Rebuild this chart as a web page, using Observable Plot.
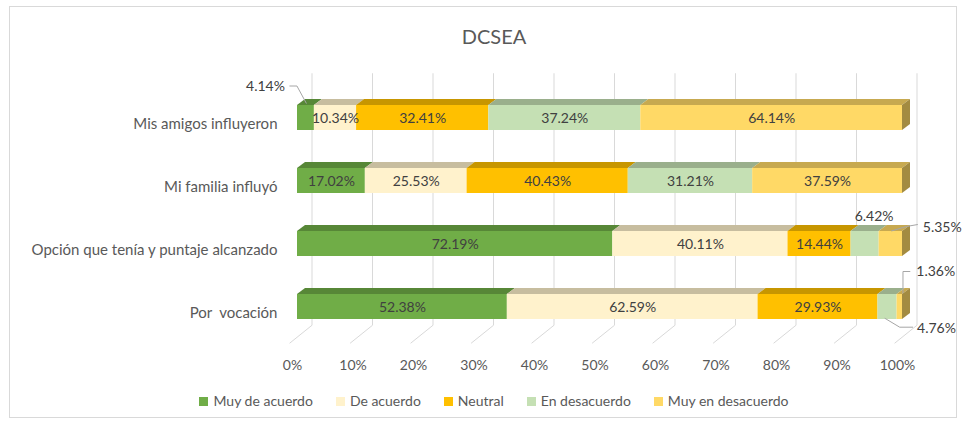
<!DOCTYPE html>
<html>
<head>
<meta charset="utf-8">
<script src="https://cdn.jsdelivr.net/npm/d3@7"></script>
<script src="https://cdn.jsdelivr.net/npm/@observablehq/plot@0.6"></script>
<style>
  body { margin: 0; background: #fff; font-family: Lato, "Open Sans", sans-serif; }
  #frame { position: absolute; left: 9px; top: 6px; width: 948px; height: 412px; border: 1px solid #d9d9d9; box-sizing: border-box; }
  #title { position: absolute; left: 0; top: 24px; width: 988px; text-align: center; font-size: 20px; color: #595959; line-height: 24px; }
  #chart { position: absolute; left: 0; top: 0; }
  #chart svg { white-space: pre; }
  #legend { position: absolute; left: 0; top: 392px; width: 988px; display: flex; justify-content: center; align-items: center; font-size: 14px; color: #595959; line-height: 18px; }
  .item { display: flex; align-items: center; margin: 0 11.5px; }
  .sw { width: 9px; height: 9px; margin-right: 5px; }
</style>
</head>
<body>
<div id="frame"></div>
<div id="chart"></div>
<div id="title">DCSEA</div>
<div id="legend"></div>
<script>
// ---- data ----
const categories = ["Mis amigos influyeron", "Mi familia influyó", "Opción que tenía y puntaje alcanzado", "Por  vocación"];
const seriesNames = ["Muy de acuerdo", "De acuerdo", "Neutral", "En desacuerdo", "Muy en desacuerdo"];
const muyDeAcuerdo    = [4.14, 17.02, 72.19, 52.38];
const deAcuerdo       = [10.34, 25.53, 40.11, 62.59];
const neutral         = [32.41, 40.43, 14.44, 29.93];
const enDesacuerdo    = [37.24, 31.21, 6.42, 4.76];
const muyEnDesacuerdo = [64.14, 37.59, 5.35, 1.36];
const xTicks = [0, 0.1, 0.2, 0.3, 0.4, 0.5, 0.6, 0.7, 0.8, 0.9, 1];
const seriesColors = ["#70AD47", "#FFF2CC", "#FFC000", "#C5E0B4", "#FFD966"];

// ---- layout / style (not data) ----
const depthX = 8, depthY = 6;
const callouts = [
  {cat: "Mis amigos influyeron", series: "Muy de acuerdo", dx: -21, dy: -31, anchor: "end",
   path: [[1, -14], [-8.5, -31.5], [-16, -31.5]]},
  {cat: "Opción que tenía y puntaje alcanzado", series: "En desacuerdo", dx: 9, dy: -27, anchor: "middle", path: null},
  {cat: "Opción que tenía y puntaje alcanzado", series: "Muy en desacuerdo", dx: 32, dy: -16.5, anchor: "start",
   path: [[1, -12.5], [16, -17], [27.5, -19]]},
  {cat: "Por  vocación", series: "Muy en desacuerdo", dx: 16.5, dy: -35, anchor: "start",
   path: [[3.7, -13.4], [3.7, -35], [11, -35]]},
  {cat: "Por  vocación", series: "En desacuerdo", dx: 29.5, dy: 21.5, anchor: "start",
   path: [[-2.3, 11.7], [12.7, 20.7], [26, 20.7]]}
];

const seriesValues = [muyDeAcuerdo, deAcuerdo, neutral, enDesacuerdo, muyEnDesacuerdo];
const rows = [];
categories.forEach((c, i) => seriesNames.forEach((s, j) => rows.push({cat: c, series: s, value: seriesValues[j][i]})));

const fmt = d => d.value.toFixed(2) + "%";
const findCallout = d => callouts.find(c => c.cat === d.cat && c.series === d.series);
const stack = (o) => Plot.stackX({offset: "normalize"}, {x: "value", y: "cat", z: "series", ...o});

function backWall(index, scales, values, dims) {
  const g = d3.create("svg:g").attr("fill", "none").attr("stroke", "#d9d9d9").attr("stroke-width", 1);
  const top = dims.marginTop, bottom = dims.height - dims.marginBottom;
  for (const t of xTicks) {
    const px = scales.x(t);
    g.append("path").attr("d", `M${px + 15},${top - 12}V${bottom - 14}L${px - 7.4},${bottom + 4}`);
  }
  return g.node();
}

function faces(index, scales, values, dims) {
  const g = d3.create("svg:g");
  const bw = scales.y.bandwidth();
  const xEnd = dims.width - dims.marginRight;
  for (const i of index) {
    const x1 = values.x1[i], x2 = values.x2[i];
    const y0 = scales.y(rows[i].cat);
    const base = d3.rgb(scales.color(rows[i].series));
    const shade = k => d3.rgb(base.r * k, base.g * k, base.b * k).formatHex();
    g.append("path")
      .attr("d", `M${x1},${y0}L${x2},${y0}L${x2 + depthX},${y0 - depthY}L${x1 + depthX},${y0 - depthY}Z`)
      .attr("fill", shade(0.78));
    if (Math.abs(x2 - xEnd) < 0.5) {
      g.append("path")
        .attr("d", `M${x2},${y0}L${x2 + depthX},${y0 - depthY}L${x2 + depthX},${y0 + bw - depthY}L${x2},${y0 + bw}Z`)
        .attr("fill", shade(0.64));
    }
  }
  return g.node();
}

function leaders(index, scales, values, dims) {
  const g = d3.create("svg:g").attr("fill", "none").attr("stroke", "#a6a6a6").attr("stroke-width", 1);
  const bw = scales.y.bandwidth();
  for (const i of index) {
    const c = findCallout(rows[i]);
    if (!c || !c.path) continue;
    const mx = (values.x1[i] + values.x2[i]) / 2;
    const my = scales.y(rows[i].cat) + bw / 2;
    g.append("path").attr("d", "M" + c.path.map(([a, b]) => `${mx + a},${my + b}`).join("L"));
  }
  return g.node();
}

const marks = [
  backWall,
  Plot.barX(rows, stack({fill: "series", render: faces})),
  Plot.barX(rows, stack({fill: "series"})),
  Plot.text(rows, stack({text: d => findCallout(d) ? null : fmt(d), fill: "#404040", dy: 1})),
  Plot.barX(rows, stack({fill: "series", render: leaders})),
  ...callouts.map(c => Plot.text(rows, stack({
    text: d => (d.cat === c.cat && d.series === c.series) ? fmt(d) : null,
    fill: "#404040", dx: c.dx, dy: c.dy, textAnchor: c.anchor
  }))),
  Plot.axisY({tickSize: 0, tickPadding: 20, dy: 6, fill: "#595959", label: null, fontSize: 15}),
  Plot.axisX(xTicks, {tickSize: 0, tickPadding: 20, dx: -5, fill: "#595959", label: null,
    tickFormat: d => Math.round(d * 100) + "%"})
];

const chart = Plot.plot({
  width: 963,
  height: 380,
  marginLeft: 297,
  marginRight: 61,
  marginTop: 85.25,
  marginBottom: 40.75,
  style: {fontFamily: "Lato, 'Open Sans', sans-serif", fontSize: "14px", background: "transparent", overflow: "visible"},
  x: {domain: [0, 1]},
  y: {domain: categories, paddingInner: 0.6, paddingOuter: 0.3},
  color: {domain: seriesNames, range: seriesColors},
  marks
});
document.getElementById("chart").appendChild(chart);

const legend = document.getElementById("legend");
seriesNames.forEach((s, i) => {
  const it = document.createElement("div");
  it.className = "item";
  const sw = document.createElement("div");
  sw.className = "sw";
  sw.style.background = seriesColors[i];
  const tx = document.createElement("span");
  tx.textContent = s;
  it.appendChild(sw); it.appendChild(tx);
  legend.appendChild(it);
});
</script>
</body>
</html>
